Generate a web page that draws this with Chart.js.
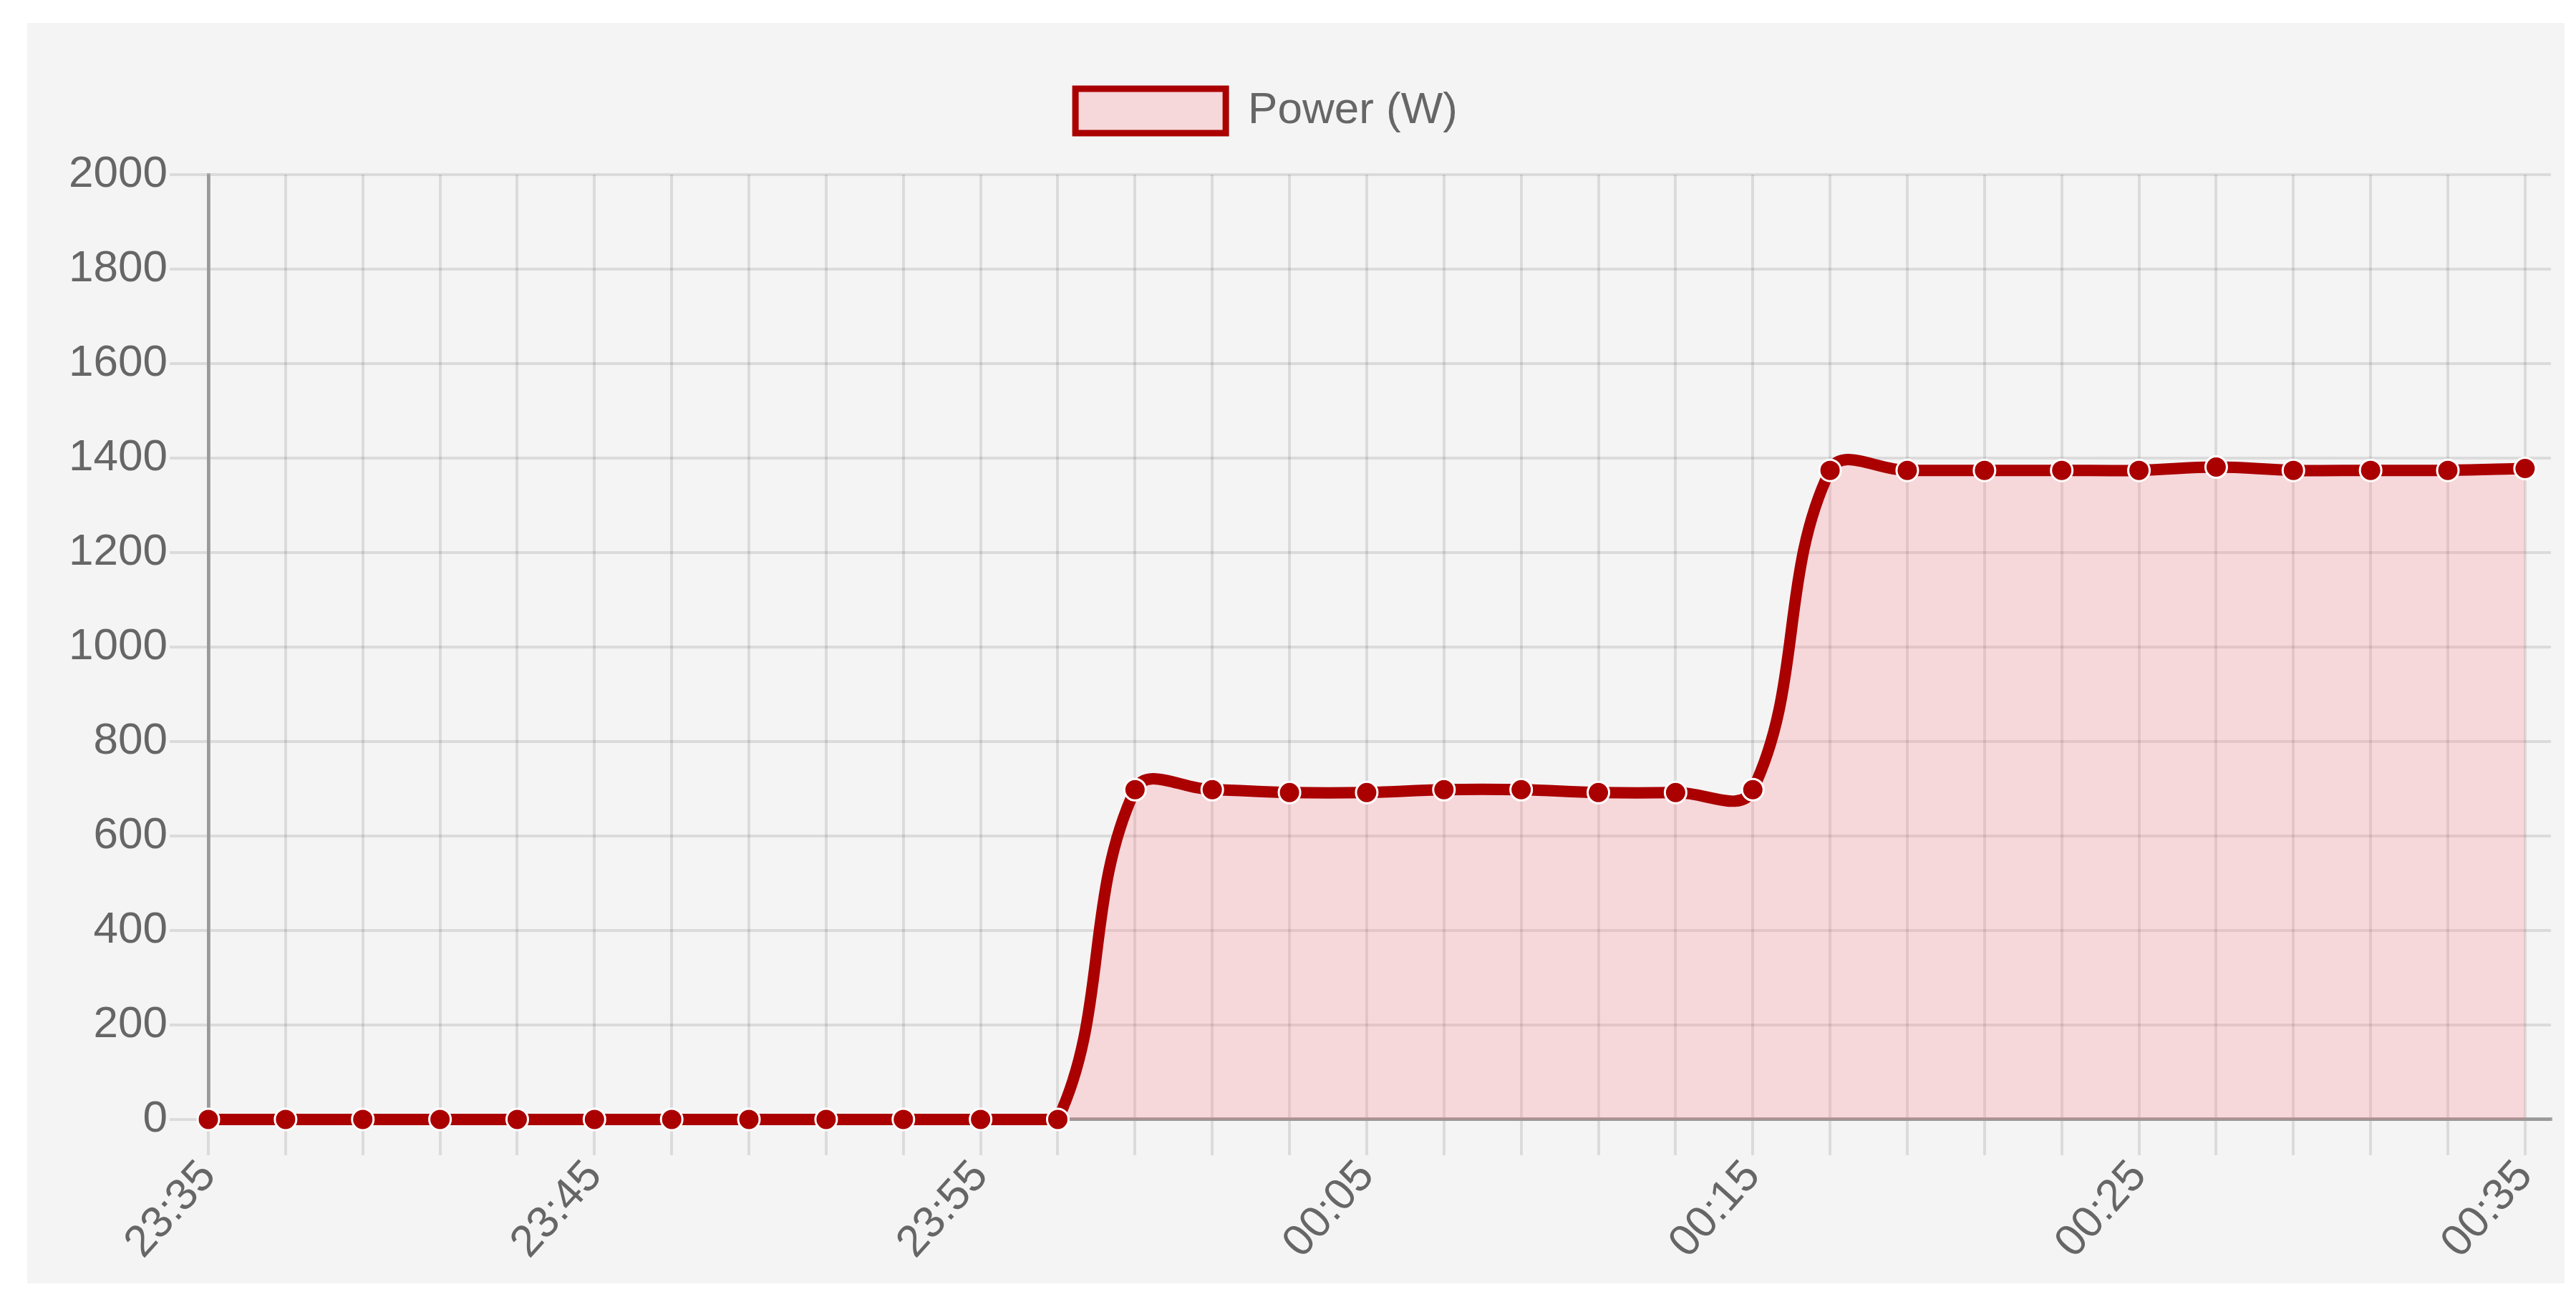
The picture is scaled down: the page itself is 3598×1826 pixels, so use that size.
<!DOCTYPE html>
<html>

<head>
    <title>Power (W)</title>
    <style>
        body { margin: 0; background: #ffffff; overflow: hidden; }
        #bg { position: absolute; left: 38px; top: 32px; width: 3544px; height: 1761px; background: #f4f4f4; }
        #wrap { position: absolute; left: -43px; top: 32px; width: 3624px; height: 1761px; }
    </style>
</head>

<body>
    <div id="bg"></div>
    <div id="wrap"><canvas id="myChart"></canvas></div>
    <script src="https://cdn.jsdelivr.net/npm/chart.js@4.4.0/dist/chart.umd.min.js"></script>

    <script type="text/javascript">
        // one reading every 2 minutes, 23:35 -> 00:35
        const times = ['23:35', '23:37', '23:39', '23:41', '23:43', '23:45', '23:47', '23:49', '23:51', '23:53', '23:55',
            '23:57', '23:59', '00:01', '00:03', '00:05', '00:07', '00:09', '00:11', '00:13', '00:15',
            '00:17', '00:19', '00:21', '00:23', '00:25', '00:27', '00:29', '00:31', '00:33', '00:35'];
        const power = [0, 0, 0, 0, 0, 0, 0, 0, 0, 0, 0,
            0, 698, 698, 692, 692, 698, 698, 692, 692, 698,
            1374, 1374, 1374, 1374, 1374, 1381, 1374, 1374, 1374, 1378];
        const tickLabels = ['23:35', '23:45', '23:55', '00:05', '00:15', '00:25', '00:35'];
        const yTicks = [0, 200, 400, 600, 800, 1000, 1200, 1400, 1600, 1800, 2000];

        const points = power.map((v, i) => ({ x: i * 2, y: v }));
        const font = { family: "'Liberation Sans', Arial, sans-serif", size: 62 };

        // extra gap between the legend and the plot
        const legendGap = {
            id: 'legendGap',
            beforeInit: function(c) {
                if (!c.legend) return;
                const fit = c.legend.fit;
                c.legend.fit = function() {
                    fit.call(this);
                    this.height += 48;
                };
            }
        };

        var ctx = document.getElementById('myChart').getContext('2d');
        var chart = new Chart(ctx, {
            type: 'line',
            data: {
                datasets: [{
                    label: 'Power (W)',
                    data: points,
                    borderColor: '#aa0000',
                    backgroundColor: 'rgba(255, 99, 115, 0.2)',
                    borderWidth: 16,
                    tension: 0.4,
                    fill: 'origin',
                    clip: false,
                    pointRadius: 15,
                    pointBorderWidth: 3,
                    pointBackgroundColor: '#aa0000',
                    pointBorderColor: '#ffffff'
                }]
            },
            plugins: [legendGap],
            options: {
                responsive: true,
                maintainAspectRatio: false,
                animation: false,
                layout: { padding: { left: 0, right: 0, top: 31, bottom: 26 } },
                plugins: {
                    tooltip: { enabled: false },
                    legend: {
                        labels: {
                            font: font,
                            color: '#666',
                            boxWidth: 210,
                            boxHeight: 62,
                            padding: 61,
                            generateLabels: function(c) {
                                const items = Chart.defaults.plugins.legend.labels.generateLabels(c);
                                items.forEach(it => { it.lineWidth = 9; });
                                return items;
                            }
                        }
                    }
                },
                scales: {
                    x: {
                        type: 'linear',
                        min: 0,
                        max: 60.67,
                        grid: { color: 'rgba(0,0,0,0.1)', lineWidth: 4, tickLength: 50 },
                        border: { color: 'rgba(0,0,0,0.3)', width: 5 },
                        ticks: {
                            stepSize: 2,
                            includeBounds: false,
                            autoSkip: false,
                            minRotation: 48,
                            maxRotation: 48,
                            padding: -6,
                            font: font,
                            color: '#666',
                            callback: function(value) {
                                const label = times[Math.round(value / 2)];
                                return tickLabels.includes(label) ? label : '';
                            }
                        }
                    },
                    y: {
                        min: yTicks[0],
                        max: yTicks[yTicks.length - 1],
                        afterFit: function(scale) { scale.width = 334; },
                        grid: { color: 'rgba(0,0,0,0.1)', lineWidth: 4, tickLength: 54 },
                        border: { color: 'rgba(0,0,0,0.3)', width: 5 },
                        ticks: {
                            stepSize: 200,
                            padding: 3,
                            font: font,
                            color: '#666',
                            callback: function(value) { return String(value); }
                        }
                    }
                }
            }
        });
    </script>
</body>

</html>
